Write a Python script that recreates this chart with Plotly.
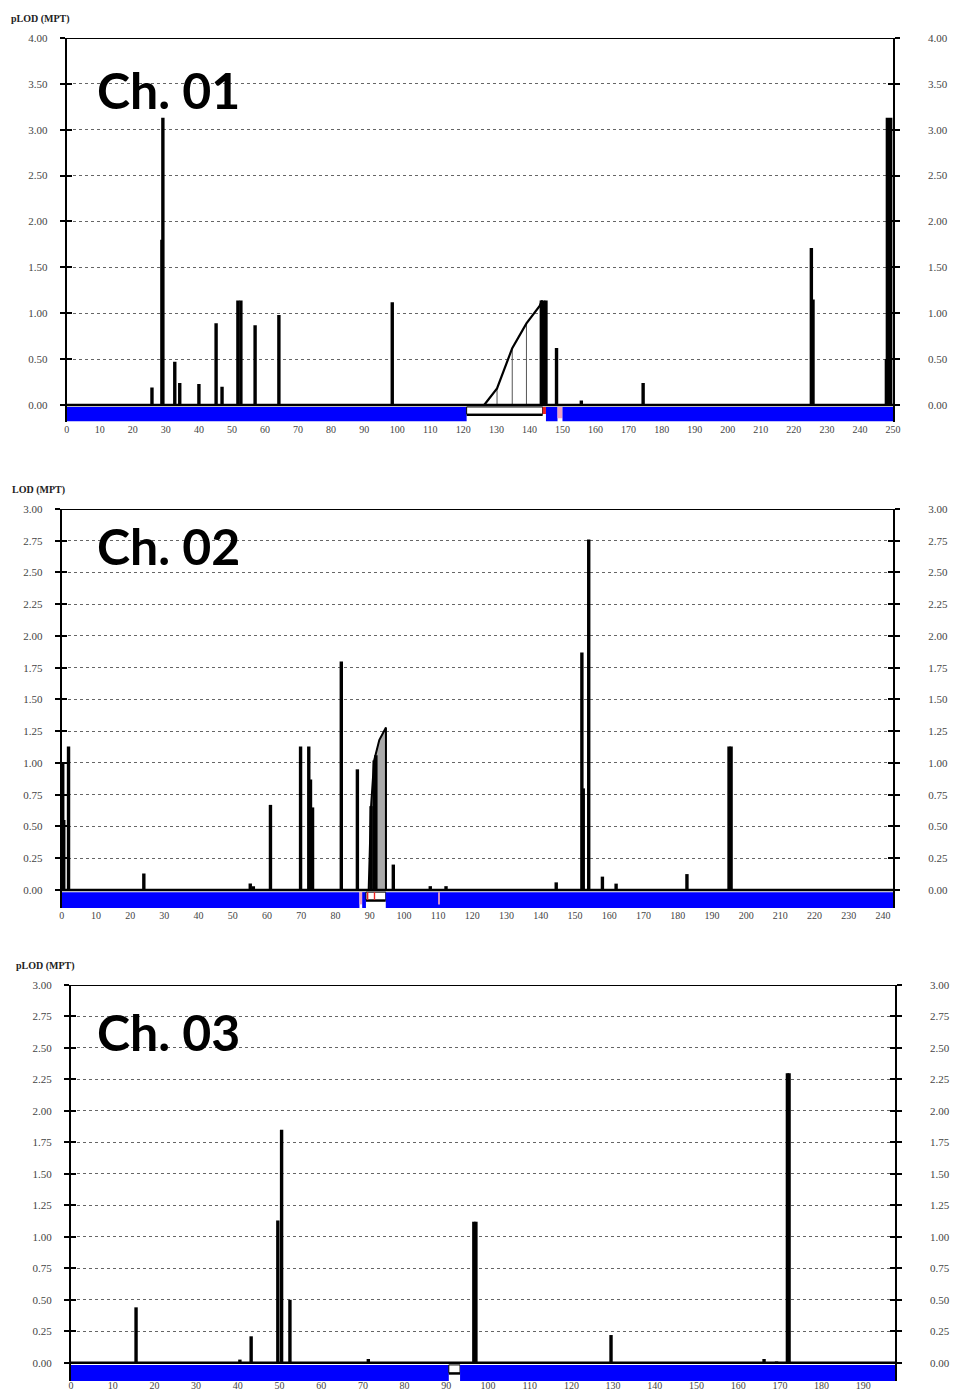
import plotly.graph_objects as go

# ---------------- data ----------------
ch1_pos = [25.8, 28.8, 29.1, 32.7, 34.2, 40.0, 45.2, 47.0, 51.8, 52.7, 57.0, 64.2, 98.5,
           143.6, 144.3, 145.0, 148.2, 155.7, 174.4, 225.3, 225.8, 248.0, 248.3, 249.3]
ch1_lod = [0.19, 1.80, 3.13, 0.47, 0.24, 0.23, 0.89, 0.20, 1.14, 1.14, 0.87, 0.98, 1.12,
           1.14, 1.14, 1.14, 0.62, 0.05, 0.24, 1.71, 1.15, 0.50, 3.13, 3.13]
ch1_curve_pos = [126.3, 130.2, 134.8, 139.1, 143.1, 143.8]
ch1_curve_lod = [0.00, 0.18, 0.62, 0.89, 1.08, 1.14]

ch2_pos = [0.3, 0.6, 2.0, 24.0, 55.1, 56.0, 61.0, 69.8, 72.2, 72.7, 73.3, 81.7, 86.4,
           90.4, 91.3, 91.8, 96.9, 107.7, 112.3, 144.5, 152.0, 152.4, 154.0, 158.0, 162.0,
           182.7, 195.0, 195.6]
ch2_lod = [1.00, 0.55, 1.13, 0.13, 0.05, 0.03, 0.67, 1.13, 1.13, 0.87, 0.65, 1.80, 0.95,
           0.66, 1.02, 1.06, 0.20, 0.03, 0.03, 0.06, 1.87, 0.80, 2.76, 0.105, 0.05,
           0.125, 1.13, 1.13]
ch2_area_pos = [89.7, 90.1, 90.4, 91.3, 92.8, 94.75]
ch2_area_lod = [0.00, 0.40, 0.66, 1.02, 1.18, 1.28]

ch3_pos = [15.6, 40.5, 43.2, 49.6, 50.5, 52.5, 71.3, 96.6, 97.1, 129.5, 166.2, 169.2,
           171.8, 172.2]
ch3_lod = [0.44, 0.025, 0.21, 1.13, 1.85, 0.50, 0.03, 1.12, 1.12, 0.22, 0.03, 0.01,
           2.30, 2.30]

# chromosome bar segments (start, end, kind)
ch1_seg_start = [0, 121, 144, 145, 148.5, 150]
ch1_seg_end = [121, 144, 145, 148.5, 150, 250]
ch1_seg_kind = ["blue", "gap", "red", "blue", "pink", "blue"]

ch2_seg_start = [0, 87, 87.8, 88.9, 89.2, 91.2, 94.7, 110.0]
ch2_seg_end = [87, 87.8, 88.9, 94.7, 89.6, 91.6, 243, 110.5]
ch2_seg_kind = ["blue", "pink", "blue", "gap", "red", "red", "blue", "pink"]

ch3_seg_start = [0, 90.6, 93.3]
ch3_seg_end = [90.6, 93.3, 197.6]
ch3_seg_kind = ["blue", "gap", "blue"]

panel_titles = ["Ch. 01", "Ch. 02", "Ch. 03"]
ylabels = ["pLOD (MPT)", "LOD (MPT)", "pLOD (MPT)"]
x_max = [250, 243, 197.6]
y_max = [4.0, 3.0, 3.0]
y_min = [-0.18, -0.142, -0.145]
y_step = [0.5, 0.25, 0.25]

# ---------------- layout geometry (pixels) ----------------
W, H = 956, 1394
px_left = [66.7, 61.7, 71.0]
px_right = [893.0, 893.3, 895.0]
px_top = [38, 509, 985]
px_bottom = [421.5, 908, 1381]
title_y_px = [19, 490, 966]
title_x_px = [9, 10, 14]
ch_y_px = [90, 546, 1032]
x_label_standoff = [0, 0, -3]

fig = go.Figure()

def lines_xy(pos, lod):
    xs, ys = [], []
    for p, v in zip(pos, lod):
        xs += [p, p, None]
        ys += [0, v, None]
    return xs, ys

tick_font = dict(family="Liberation Serif", size=11, color="#444")
xtick_font = dict(family="Liberation Serif", size=10, color="#444")
shapes = []
annotations = []

panels = [
    (ch1_pos, ch1_lod, ch1_seg_start, ch1_seg_end, ch1_seg_kind),
    (ch2_pos, ch2_lod, ch2_seg_start, ch2_seg_end, ch2_seg_kind),
    (ch3_pos, ch3_lod, ch3_seg_start, ch3_seg_end, ch3_seg_kind),
]

for i, (pos, lod, s0, s1, kind) in enumerate(panels):
    n = i + 1
    xa = "x" if n == 1 else f"x{n}"
    ya = "y" if n == 1 else f"y{n}"
    yo = f"y{n + 3}"
    xs, ys = lines_xy(pos, lod)

    if n == 1:
        vx, vy = lines_xy(ch1_curve_pos[1:4], ch1_curve_lod[1:4])
        fig.add_trace(go.Scatter(x=vx, y=vy, mode="lines", xaxis=xa, yaxis=ya,
                                 line=dict(color="#555", width=1), hoverinfo="skip",
                                 showlegend=False))
        fig.add_trace(go.Scatter(x=ch1_curve_pos, y=ch1_curve_lod, mode="lines",
                                 xaxis=xa, yaxis=ya, line=dict(color="black", width=2.2),
                                 showlegend=False))
    if n == 2:
        ax_ = ch2_area_pos + [ch2_area_pos[-1], ch2_area_pos[0]]
        ay_ = ch2_area_lod + [0, 0]
        fig.add_trace(go.Scatter(x=ax_, y=ay_, mode="lines", fill="toself",
                                 fillcolor="#aaaaaa", xaxis=xa, yaxis=ya,
                                 line=dict(color="black", width=2), showlegend=False))

    fig.add_trace(go.Scatter(x=xs, y=ys, mode="lines", xaxis=xa, yaxis=ya,
                             line=dict(color="black", width=3.4), showlegend=False))
    fig.add_trace(go.Scatter(x=[0], y=[0], mode="markers", xaxis=xa, yaxis=yo,
                             marker=dict(opacity=0), hoverinfo="skip", showlegend=False))

    dom_x = [px_left[i] / W, px_right[i] / W]
    dom_y = [1 - px_bottom[i] / H, 1 - px_top[i] / H]
    nt = int(round(y_max[i] / y_step[i]))
    tv = [round(k * y_step[i], 2) for k in range(nt + 1)]
    tt = [f"{v:.2f}" for v in tv]

    xkey = "xaxis" if n == 1 else f"xaxis{n}"
    ykey = "yaxis" if n == 1 else f"yaxis{n}"
    okey = f"yaxis{n + 3}"
    fig.layout[xkey] = dict(domain=dom_x, anchor=ya, range=[0, x_max[i]],
                            tickmode="linear", tick0=0, dtick=10, showline=False,
                            showgrid=False, zeroline=False, ticks="",
                            tickfont=xtick_font, ticklabelstandoff=x_label_standoff[i],
                            automargin=False)
    fig.layout[ykey] = dict(domain=dom_y, anchor=xa, range=[y_min[i], y_max[i]],
                            tickvals=tv, ticktext=tt, showline=True, linecolor="black",
                            linewidth=2, mirror="ticks", ticks="outside", ticklen=5,
                            tickwidth=2, tickcolor="black", showgrid=True,
                            gridcolor="#666", griddash="dot", gridwidth=1,
                            zeroline=False, tickfont=tick_font, ticklabelstandoff=10,
                            automargin=False)
    fig.layout[okey] = dict(overlaying=ya, anchor=xa, side="right",
                            range=[y_min[i], y_max[i]], tickvals=tv, ticktext=tt,
                            showline=False, mirror="ticks", ticks="inside", ticklen=5,
                            tickwidth=2, tickcolor="black", showgrid=False,
                            zeroline=False, tickfont=tick_font, ticklabelstandoff=34,
                            automargin=False)

    depth = y_min[i]
    top = depth * 0.12
    for a, b, k in zip(s0, s1, kind):
        if k == "blue":
            shapes.append(dict(type="rect", xref=xa, yref=ya, x0=a, x1=b, y0=top,
                               y1=depth, fillcolor="#0000ff", line=dict(width=0),
                               layer="below"))
        elif k == "gap":
            shapes.append(dict(type="rect", xref=xa, yref=ya, x0=a, x1=b, y0=top,
                               y1=depth * 0.55, fillcolor="white",
                               line=dict(color="black", width=1), layer="below"))
            shapes.append(dict(type="line", xref=xa, yref=ya, x0=a, x1=b,
                               y0=depth * 0.6, y1=depth * 0.6,
                               line=dict(color="black", width=2), layer="below"))
        elif k == "red":
            shapes.append(dict(type="rect", xref=xa, yref=ya, x0=a, x1=b, y0=top,
                               y1=depth * 0.55, fillcolor="#ee2222", line=dict(width=0),
                               layer="below"))
        elif k == "pink":
            shapes.append(dict(type="rect", xref=xa, yref=ya, x0=a, x1=b, y0=top,
                               y1=depth * 0.8, fillcolor="#f0a0c0", line=dict(width=0),
                               layer="below"))
    shapes.append(dict(type="line", xref=xa, yref=ya, x0=0, x1=x_max[i], y0=0, y1=0,
                       line=dict(color="black", width=2.5)))
    shapes.append(dict(type="line", xref=xa + " domain", yref=ya, x0=0, x1=1,
                       y0=y_max[i], y1=y_max[i], line=dict(color="black", width=2)))

    annotations.append(dict(text=f"<b>{ylabels[i]}</b>", xref="paper", yref="paper",
                            x=title_x_px[i] / W, y=1 - title_y_px[i] / H,
                            xanchor="left", yanchor="middle", showarrow=False,
                            font=dict(family="Liberation Serif", size=10, color="#222")))
    annotations.append(dict(text=f"<b>{panel_titles[i]}</b>", xref="paper", yref="paper",
                            x=95 / W, y=1 - ch_y_px[i] / H, xanchor="left",
                            yanchor="middle", showarrow=False,
                            font=dict(family="Lato", size=50, color="black")))

fig.update_layout(width=W, height=H, margin=dict(l=0, r=0, t=0, b=0),
                  plot_bgcolor="white", paper_bgcolor="white", shapes=shapes,
                  annotations=annotations, showlegend=False)

fig.write_html("out.html")
